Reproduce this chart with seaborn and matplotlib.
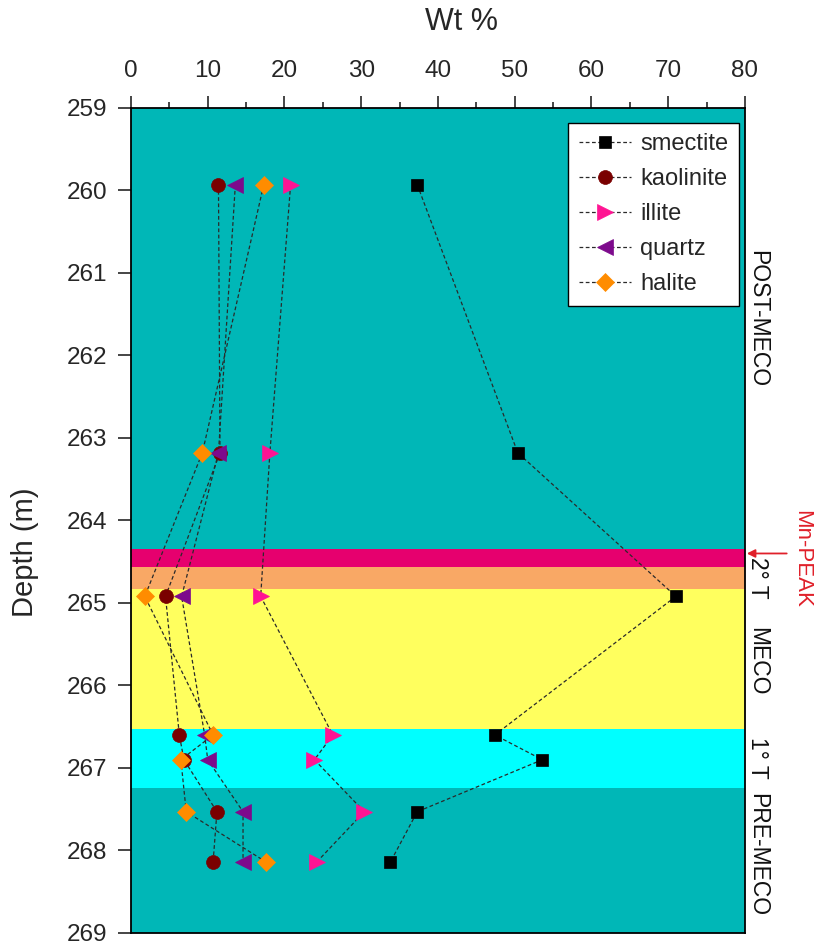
import matplotlib
matplotlib.use("Agg")
import matplotlib.pyplot as plt
import matplotlib.transforms as mtransforms
import seaborn as sns
import numpy as np

# Sample depths (m) and mineral contents (wt %)
depths = [259.93, 263.18, 264.92, 266.60, 266.90, 267.53, 268.14]
smectite = [37.3, 50.4, 71.0, 47.4, 53.6, 37.3, 33.8]
kaolinite = [11.4, 11.6, 4.5, 6.3, 6.9, 11.2, 10.7]
illite = [20.8, 18.1, 16.9, 26.3, 23.9, 30.4, 24.2]
quartz = [13.6, 11.4, 6.6, 9.6, 10.0, 14.6, 14.6]
halite = [17.3, 9.3, 1.8, 10.7, 6.5, 7.2, 17.6]

minerals = ["smectite", "kaolinite", "illite", "quartz", "halite"]
series = [smectite, kaolinite, illite, quartz, halite]
marker_colors = ["#000000", "#7a0000", "#ff1493", "#7d0a8c", "#ff8c00"]
marker_shapes = ["s", "o", ">", "<", "D"]
marker_sizes = [9, 10, 11, 11, 9]

# Stratigraphic intervals (top, bottom, colour)
band_tops = [259.0, 264.34, 264.56, 264.83, 266.53, 267.24]
band_bottoms = [264.34, 264.56, 264.83, 266.53, 267.24, 269.0]
band_colors = ["#00b7b7", "#e6006e", "#f9a865", "#ffff5e", "#00ffff", "#00b7b7"]

# Interval labels on the right side
zone_names = ["POST-MECO", "2° T", "MECO", "1° T", "PRE-MECO"]
zone_depths = [261.55, 264.69, 265.71, 266.88, 268.05]
peak_label = "Mn-PEAK"
peak_depth = 264.40

sns.set_theme(style="ticks")
plt.rcParams["font.family"] = ["Liberation Sans", "DejaVu Sans"]

fig = plt.figure(figsize=(8.14, 9.47), dpi=100)
ax = fig.add_axes([0.1609, 0.0148, 0.7543, 0.8712])

for top, bot, col in zip(band_tops, band_bottoms, band_colors):
    ax.axhspan(top, bot, color=col, lw=0, zorder=0)

for name, vals, col, mk, ms in zip(minerals, series, marker_colors,
                                   marker_shapes, marker_sizes):
    sns.lineplot(x=vals, y=depths, sort=False, estimator=None, ax=ax,
                 color="#2a2a2a", linestyle=(0, (3, 2)), linewidth=0.9,
                 marker=mk, markersize=ms, markerfacecolor=col,
                 markeredgecolor=col, markeredgewidth=0.5, label=name,
                 zorder=3)

ax.set_xlim(0, 80)
ax.set_ylim(269, 259)

ax.xaxis.set_ticks_position("top")
ax.xaxis.set_label_position("top")
ax.set_xticks(np.arange(0, 81, 10))
ax.set_xticks(np.arange(5, 80, 10), minor=True)
ax.set_yticks(np.arange(259, 270, 1))
ax.tick_params(axis="x", which="major", length=8.6, width=1.2,
               labelsize=17.5, pad=10, direction="out")
ax.tick_params(axis="x", which="minor", length=4.5, width=1.2, direction="out")
ax.tick_params(axis="y", which="major", length=9.4, width=1.2,
               labelsize=17.5, pad=7.5, direction="out")
ax.set_xlabel("Wt %", fontsize=22)
ax.xaxis.set_label_coords(0.539, 1.095)
ax.set_ylabel("Depth (m)", fontsize=21)
ax.yaxis.set_label_coords(-0.150, 0.461)

for sp in ax.spines.values():
    sp.set_visible(True)
    sp.set_linewidth(1.3)
    sp.set_color("black")

leg = ax.legend(loc="upper right", bbox_to_anchor=(0.99, 0.982),
                borderaxespad=0, fontsize=17, frameon=True, fancybox=False,
                handlelength=2.2, labelspacing=0.55, handletextpad=0.4,
                borderpad=0.45)
leg.get_frame().set_edgecolor("black")
leg.get_frame().set_linewidth(1.0)
leg.get_frame().set_facecolor("white")
leg.get_frame().set_alpha(1)

trans = mtransforms.blended_transform_factory(ax.transAxes, ax.transData)
for name, d in zip(zone_names, zone_depths):
    ax.text(1.021, d, name, transform=trans, rotation=-90, ha="center",
            va="center", fontsize=16.5, color="#111111", clip_on=False)

ax.text(1.092, 264.47, peak_label, transform=trans, rotation=-90,
        ha="center", va="center", fontsize=16, color="#e0202a",
        clip_on=False)
ax.annotate("", xy=(1.003, peak_depth), xycoords=trans,
            xytext=(1.068, peak_depth), textcoords=trans,
            arrowprops=dict(arrowstyle="-|>", color="#e0202a", lw=1.3,
                            mutation_scale=12, shrinkA=0, shrinkB=0))

fig.savefig("out.png", dpi=100)
